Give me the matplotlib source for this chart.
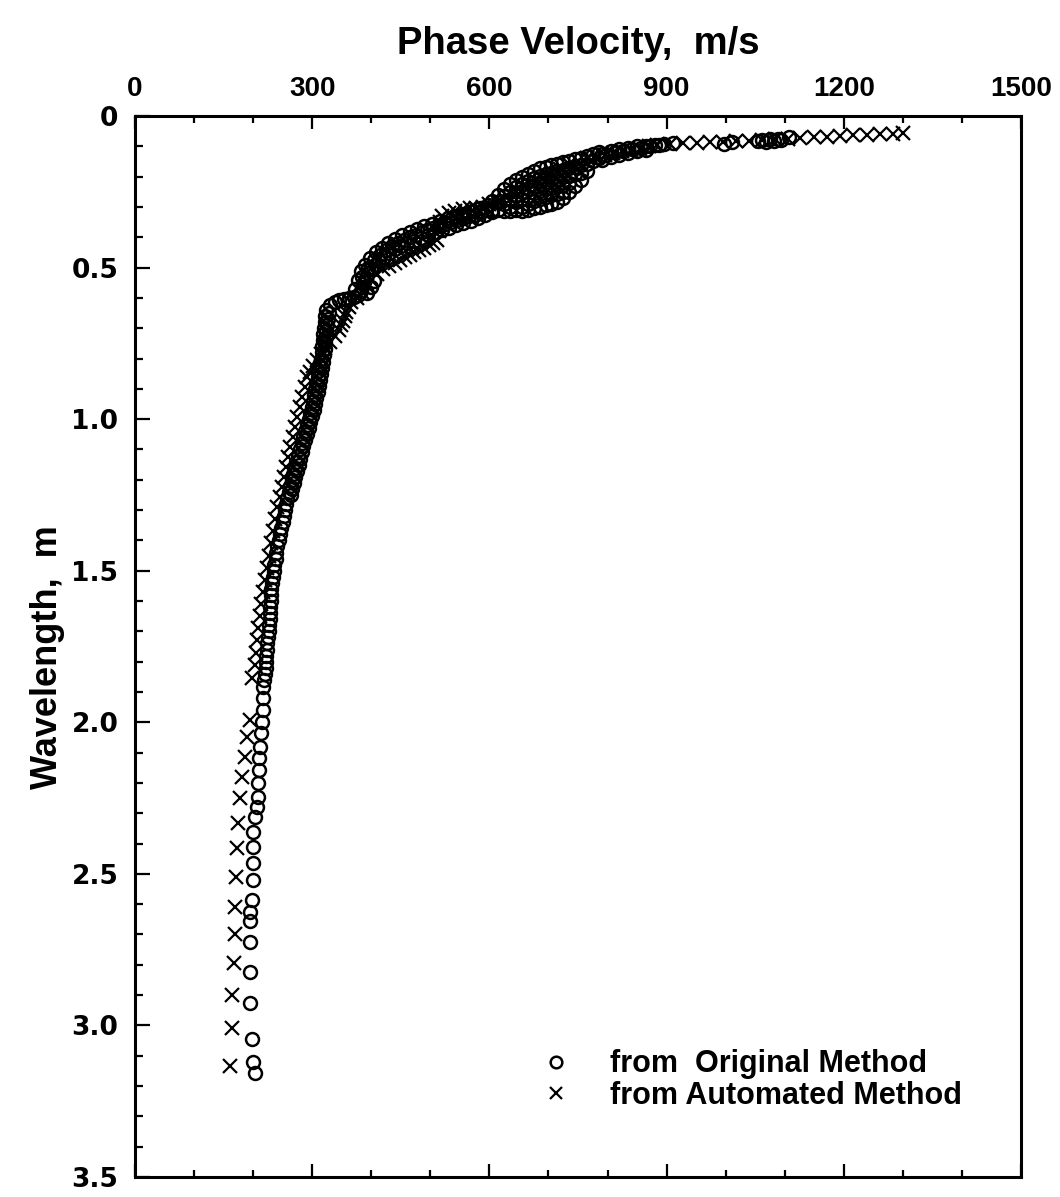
import matplotlib
matplotlib.use("Agg")
import matplotlib.pyplot as plt
from matplotlib.ticker import FixedLocator, FixedFormatter, MultipleLocator

# ---------------- data ----------------
x_ticks = [0, 300, 600, 900, 1200, 1500]
x_tick_labels = ["0", "300", "600", "900", "1200", "1500"]
y_ticks = [0, 0.5, 1.0, 1.5, 2.0, 2.5, 3.0, 3.5]
y_tick_labels = ["0", "0.5", "1.0", "1.5", "2.0", "2.5", "3.0", "3.5"]

# Original method (circles)
orig_v_bottom = [203, 200, 198, 195, 195, 195, 195, 195, 198, 200, 200, 200, 200,
                 203, 207, 208, 208, 210, 210, 212, 213, 215, 217, 217, 217]
orig_wl_bottom = [3.158, 3.119, 3.046, 2.927, 2.825, 2.726, 2.657, 2.627, 2.587,
                  2.520, 2.465, 2.413, 2.363, 2.313, 2.280, 2.247, 2.200, 2.158,
                  2.119, 2.083, 2.036, 2.000, 1.960, 1.920, 1.884]

orig_v_mid = [219, 220, 221, 221, 222, 223, 224, 225, 226, 227,
              228, 228, 229, 230, 231, 231, 232, 234, 235, 236,
              238, 239, 241, 243, 245, 247, 250, 252, 254, 256,
              258, 260, 263, 265, 268, 271, 273, 276, 279, 282,
              285, 288, 291, 294, 297, 299, 301, 303, 305, 307,
              309, 310, 312, 314, 316, 317, 318, 319, 320, 321,
              322, 324]
orig_wl_mid = [1.86, 1.84, 1.82, 1.80, 1.78, 1.76, 1.74, 1.72, 1.70, 1.68,
               1.66, 1.64, 1.62, 1.60, 1.58, 1.56, 1.54, 1.52, 1.50, 1.48,
               1.46, 1.44, 1.42, 1.40, 1.38, 1.36, 1.34, 1.32, 1.30, 1.28,
               1.26, 1.24, 1.22, 1.20, 1.18, 1.16, 1.14, 1.12, 1.10, 1.08,
               1.06, 1.04, 1.02, 1.00, 0.98, 0.96, 0.94, 0.92, 0.90, 0.88,
               0.86, 0.84, 0.82, 0.80, 0.78, 0.76, 0.74, 0.72, 0.70, 0.68,
               0.66, 0.64]

orig_v_mid2 = [328, 326, 325, 324, 323, 322, 321, 320, 318, 316,
               314, 313, 311, 309, 307, 305, 303, 300, 297, 294,
               291, 288, 285, 282, 279, 277, 274, 271, 269, 266, 264]
orig_wl_mid2 = [0.65, 0.67, 0.69, 0.71, 0.73, 0.75, 0.77, 0.79, 0.81, 0.83,
                0.85, 0.87, 0.89, 0.91, 0.93, 0.95, 0.97, 0.99, 1.01, 1.03,
                1.05, 1.07, 1.09, 1.11, 1.13, 1.15, 1.17, 1.19, 1.21, 1.23, 1.25]

orig_v_knee = [330, 338, 346, 354, 362, 370, 377, 382, 385, 388, 391, 395, 400,
               406, 413, 421, 430, 440, 450, 461, 472, 484, 496, 508, 520, 532,
               544, 556, 568, 580, 592, 604, 393, 400, 405]
orig_wl_knee = [0.625, 0.615, 0.608, 0.603, 0.600, 0.597, 0.590, 0.578, 0.563,
                0.548, 0.533, 0.518, 0.503, 0.490, 0.477, 0.464, 0.452, 0.440,
                0.430, 0.420, 0.411, 0.402, 0.393, 0.385, 0.377, 0.369, 0.361,
                0.353, 0.345, 0.337, 0.328, 0.318, 0.584, 0.565, 0.545]

orig_v_middle = [385, 395, 405, 415, 425, 435, 445, 455, 465, 475, 485, 495, 505,
                 515, 525, 535, 545, 555, 565, 575, 585, 595]
orig_wl_middle = [0.530, 0.500, 0.475, 0.457, 0.442, 0.428, 0.418, 0.409, 0.400,
                  0.392, 0.384, 0.377, 0.370, 0.364, 0.357, 0.350, 0.344, 0.338,
                  0.331, 0.325, 0.318, 0.311]

orig_v_upper = [372, 378, 383, 390, 398, 408, 418, 428, 440, 452, 465, 478, 490,
                503, 516, 530, 543, 556, 570, 584, 598]
orig_wl_upper = [0.570, 0.540, 0.510, 0.490, 0.470, 0.450, 0.435, 0.420, 0.405,
                 0.393, 0.382, 0.372, 0.363, 0.355, 0.347, 0.338, 0.330, 0.322,
                 0.313, 0.305, 0.295]

orig_v_blob = [605, 605,
               615, 615, 615,
               625, 625, 625, 625,
               635, 635, 635, 635, 635,
               645, 645, 645, 645, 645,
               655, 655, 655, 655, 655, 655,
               665, 665, 665, 665, 665, 665,
               675, 675, 675, 675, 675, 675,
               685, 685, 685, 685, 685, 685,
               695, 695, 695, 695, 695, 695,
               705, 705, 705, 705, 705, 705,
               715, 715, 715, 715, 715, 715,
               725, 725, 725, 725, 725, 725,
               735, 735, 735, 735, 735,
               745, 745, 745, 745,
               755, 755, 755, 755,
               765, 765, 765,
               775, 775,
               785, 785]
orig_wl_blob = [0.280, 0.310,
                0.260, 0.285, 0.310,
                0.240, 0.265, 0.290, 0.315,
                0.225, 0.250, 0.275, 0.300, 0.315,
                0.210, 0.235, 0.260, 0.285, 0.310,
                0.200, 0.225, 0.250, 0.275, 0.300, 0.315,
                0.190, 0.215, 0.240, 0.265, 0.290, 0.310,
                0.180, 0.205, 0.230, 0.255, 0.280, 0.305,
                0.173, 0.198, 0.223, 0.248, 0.273, 0.300,
                0.167, 0.192, 0.217, 0.242, 0.267, 0.295,
                0.162, 0.187, 0.212, 0.237, 0.262, 0.290,
                0.157, 0.182, 0.207, 0.232, 0.257, 0.283,
                0.152, 0.177, 0.202, 0.227, 0.252, 0.270,
                0.147, 0.172, 0.197, 0.222, 0.250,
                0.142, 0.167, 0.192, 0.230,
                0.137, 0.162, 0.187, 0.210,
                0.132, 0.157, 0.180,
                0.125, 0.150,
                0.120, 0.140]

orig_v_top = [797, 812, 827, 842, 857, 872, 887,
              790, 790, 805, 805, 820, 820, 835, 835, 850, 850, 865, 865, 880,
              895, 910, 998, 1010, 1055, 1062, 1068, 1075, 1082, 1088, 1094, 1108]
orig_wl_top = [0.130, 0.120, 0.115, 0.110, 0.105, 0.100, 0.097,
               0.125, 0.145, 0.115, 0.135, 0.110, 0.128, 0.105, 0.122, 0.100,
               0.117, 0.098, 0.112, 0.095, 0.092, 0.090, 0.092, 0.086, 0.083,
               0.078, 0.085, 0.077, 0.082, 0.076, 0.079, 0.070]

# Automated method (crosses)
auto_v_bottom = [161, 165, 165, 167, 169, 169, 171, 173, 174, 178, 181, 186, 190, 195]
auto_wl_bottom = [3.135, 3.010, 2.900, 2.795, 2.700, 2.610, 2.510, 2.416, 2.333,
                  2.250, 2.180, 2.115, 2.050, 1.993]

auto_v_mid = [198, 203, 205, 207, 209, 211, 214, 217, 220, 223,
              226, 230, 233, 237, 241, 245, 249, 252, 256, 259,
              263, 267, 271, 275, 279, 283, 287, 291]
auto_wl_mid = [1.855, 1.81, 1.77, 1.73, 1.69, 1.65, 1.61, 1.57, 1.53, 1.49,
               1.45, 1.41, 1.37, 1.33, 1.29, 1.257, 1.224, 1.191, 1.158, 1.125,
               1.092, 1.059, 1.026, 0.993, 0.96, 0.927, 0.894, 0.861]

auto_v_knee = [296, 302, 308, 315, 322, 330, 338, 346, 349, 352, 355, 358, 362,
               365, 375, 385, 392, 400, 410, 420, 430, 440, 449]
auto_wl_knee = [0.845, 0.825, 0.805, 0.785, 0.765, 0.745, 0.725, 0.705, 0.69,
                0.675, 0.66, 0.645, 0.63, 0.615, 0.60, 0.58, 0.56, 0.54, 0.52,
                0.505, 0.495, 0.485, 0.475]

auto_v_upper = [457, 465, 473, 481, 489, 497, 505, 511, 514, 516, 520, 531, 542,
                555, 567, 578, 589, 600, 615, 630, 645, 660, 675, 690, 705, 720,
                735, 750, 765, 780, 795, 810, 825, 840, 855, 870]
auto_wl_upper = [0.466, 0.458, 0.450, 0.442, 0.434, 0.426, 0.418, 0.410, 0.380,
                 0.350, 0.330, 0.320, 0.312, 0.307, 0.304, 0.302, 0.300, 0.290,
                 0.280, 0.265, 0.250, 0.235, 0.220, 0.205, 0.190, 0.175, 0.160,
                 0.150, 0.140, 0.135, 0.128, 0.122, 0.117, 0.112, 0.108, 0.100]

auto_v_top = [884, 906, 928, 951, 973, 995, 1017, 1039, 1061, 1083, 1105, 1126,
              1149, 1171, 1194, 1216, 1239, 1261, 1283, 1300]
auto_wl_top = [0.096, 0.093, 0.090, 0.088, 0.086, 0.085, 0.083, 0.081, 0.079,
               0.077, 0.075, 0.073, 0.070, 0.068, 0.066, 0.064, 0.062, 0.060,
               0.058, 0.056]

orig_v = (orig_v_bottom + orig_v_mid + orig_v_mid2 + orig_v_knee + orig_v_middle
          + orig_v_upper + orig_v_blob + orig_v_top)
orig_wl = (orig_wl_bottom + orig_wl_mid + orig_wl_mid2 + orig_wl_knee + orig_wl_middle
           + orig_wl_upper + orig_wl_blob + orig_wl_top)
auto_v = auto_v_bottom + auto_v_mid + auto_v_knee + auto_v_upper + auto_v_top
auto_wl = auto_wl_bottom + auto_wl_mid + auto_wl_knee + auto_wl_upper + auto_wl_top

# ---------------- figure ----------------
fig = plt.figure(figsize=(10.6, 11.97), dpi=100)
ax = fig.add_axes([0.1274, 0.0167, 0.8358, 0.8864])

ax.plot(orig_v, orig_wl, linestyle="none", marker="o", ms=9.3, mfc="none",
        mec="black", mew=1.8, label="from  Original Method")
ax.plot(auto_v, auto_wl, linestyle="none", marker="x", ms=9.5, color="black",
        mew=1.6, label="from Automated Method")

ax.set_xlim(0, 1500)
ax.set_ylim(3.5, 0)

ax.xaxis.set_major_locator(FixedLocator(x_ticks))
ax.xaxis.set_major_formatter(FixedFormatter(x_tick_labels))
ax.xaxis.set_minor_locator(MultipleLocator(100))
ax.yaxis.set_major_locator(FixedLocator(y_ticks))
ax.yaxis.set_major_formatter(FixedFormatter(y_tick_labels))
ax.yaxis.set_minor_locator(MultipleLocator(0.1))

for s in ax.spines.values():
    s.set_linewidth(2.2)

ax.tick_params(axis="x", which="both", direction="in", top=True, bottom=True,
               labeltop=True, labelbottom=False, width=1.6)
ax.tick_params(axis="x", which="major", length=9.5, pad=10)
ax.tick_params(axis="x", which="minor", length=5)
ax.tick_params(axis="y", which="both", direction="in", left=True, right=False,
               width=1.6)
ax.tick_params(axis="y", which="major", length=11, pad=12)
ax.tick_params(axis="y", which="minor", length=6)

for lab in ax.get_xticklabels():
    lab.set_fontfamily("Liberation Sans")
    lab.set_fontweight("bold")
    lab.set_fontsize(20)
for lab in ax.get_yticklabels():
    lab.set_fontfamily("DejaVu Sans")
    lab.set_fontweight("bold")
    lab.set_fontsize(19)

ax.xaxis.set_label_position("top")
ax.set_xlabel("Phase Velocity,  m/s", fontfamily="Liberation Sans",
              fontweight="bold", fontsize=27.5, labelpad=16)
ax.set_ylabel("Wavelength,  m", fontfamily="Liberation Sans",
              fontweight="bold", fontsize=26)
ax.yaxis.set_label_coords(-0.079, 0.490)

leg = ax.legend(loc="center left", bbox_to_anchor=(0.458, 0.0914),
                frameon=False, borderpad=0, borderaxespad=0,
                handlelength=1.0, handletextpad=1.25, labelspacing=0.05,
                markerscale=0.9,
                prop={"family": "Liberation Sans", "weight": "bold", "size": 22})

fig.savefig("out.png", dpi=100, facecolor="white")
